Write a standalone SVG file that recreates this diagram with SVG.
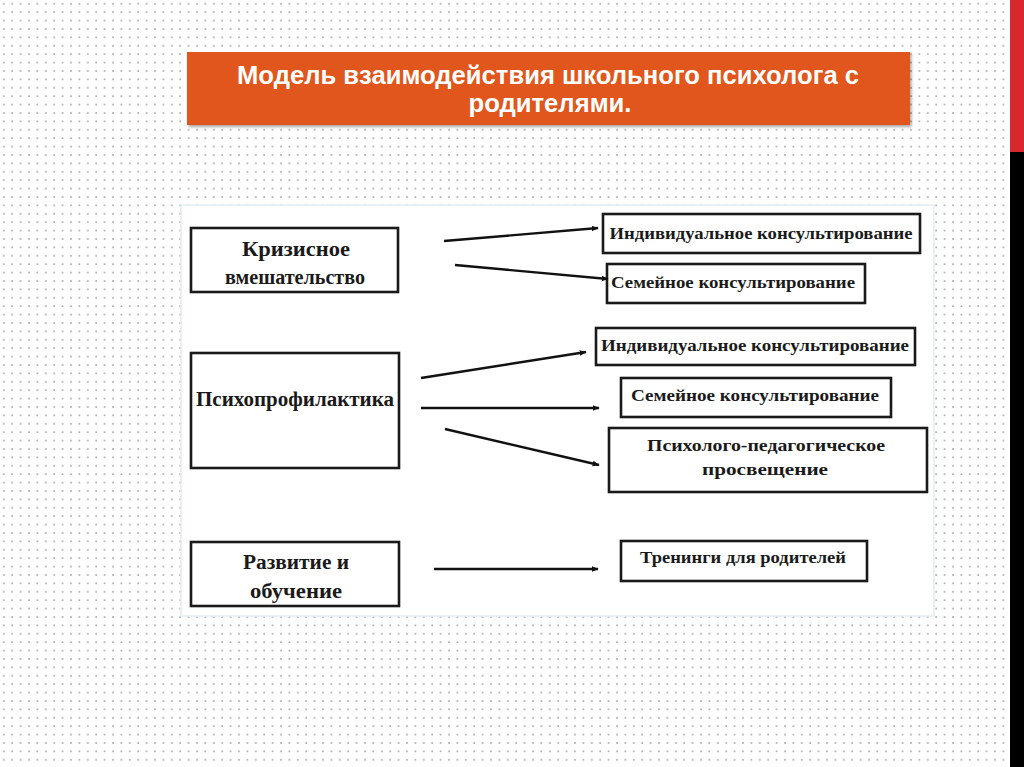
<svg xmlns="http://www.w3.org/2000/svg" width="1024" height="767" viewBox="0 0 1024 767">
<defs>
<pattern id="dots" x="0" y="0" width="8.4" height="8.4" patternUnits="userSpaceOnUse">
<rect x="3" y="3" width="1.6" height="1.6" fill="#a3a3a3"/>
</pattern>
<filter id="sh" x="-5%" y="-20%" width="110%" height="150%">
<feDropShadow dx="1.5" dy="2" stdDeviation="1.5" flood-color="#000" flood-opacity="0.35"/>
</filter>
<marker id="ah" viewBox="0 0 10 10" refX="9" refY="5" markerWidth="7" markerHeight="7" orient="auto" markerUnits="userSpaceOnUse">
<path d="M0,1 L10,5 L0,9 Z" fill="#111"/>
</marker>
</defs>
<style>
.box{fill:#fff;stroke:#1a1a1a;stroke-width:2.6}
.lt{font-family:"Liberation Serif","Times New Roman",serif;font-weight:bold;font-size:20px;fill:#1a1a1a;text-anchor:middle}
.rt{font-family:"Liberation Serif","Times New Roman",serif;font-weight:bold;font-size:16px;fill:#1a1a1a;text-anchor:middle}
.conn{stroke:#111;stroke-width:2.4;fill:none;marker-end:url(#ah)}
.title{font-family:"Liberation Sans",Arial,sans-serif;font-weight:bold;font-size:25px;fill:#fff;text-anchor:middle}
</style>
<rect width="1024" height="767" fill="#fff"/>
<rect width="1024" height="767" fill="url(#dots)"/>
<rect x="1010" y="0" width="14" height="152" fill="#d9272e"/>
<rect x="1010" y="152" width="14" height="615" fill="#000"/>

<g id="title">
<rect x="187" y="52" width="723" height="73" fill="#e0561d" filter="url(#sh)"/>
<text class="title" x="548" y="84" textLength="622" lengthAdjust="spacingAndGlyphs">Модель взаимодействия школьного психолога с</text>
<text class="title" x="550" y="112" textLength="163" lengthAdjust="spacingAndGlyphs">родителями.</text>
</g>

<rect x="181" y="205" width="753" height="411" fill="#fff" stroke="#e3edf2" stroke-width="1.5"/>

<g id="n-krizis">
<rect class="box" x="191" y="228" width="207" height="64"/>
<text class="lt" x="296" y="256" textLength="108" lengthAdjust="spacingAndGlyphs">Кризисное</text>
<text class="lt" x="295" y="284" textLength="140" lengthAdjust="spacingAndGlyphs">вмешательство</text>
</g>
<g id="n-psihoprof">
<rect class="box" x="191" y="353" width="208" height="115"/>
<text class="lt" x="295" y="406" textLength="198" lengthAdjust="spacingAndGlyphs">Психопрофилактика</text>
</g>
<g id="n-razvitie">
<rect class="box" x="191" y="542" width="208" height="64"/>
<text class="lt" x="296" y="569" textLength="106" lengthAdjust="spacingAndGlyphs">Развитие и</text>
<text class="lt" x="296" y="598" textLength="92" lengthAdjust="spacingAndGlyphs">обучение</text>
</g>

<g id="n-ind1">
<rect class="box" x="603" y="214" width="317" height="39"/>
<text class="rt" x="761" y="239" textLength="303" lengthAdjust="spacingAndGlyphs">Индивидуальное консультирование</text>
</g>
<g id="n-sem1">
<rect class="box" x="607" y="264" width="258" height="39"/>
<text class="rt" x="733" y="288" textLength="244" lengthAdjust="spacingAndGlyphs">Семейное консультирование</text>
</g>
<g id="n-ind2">
<rect class="box" x="596" y="328" width="319" height="37"/>
<text class="rt" x="755" y="351" textLength="308" lengthAdjust="spacingAndGlyphs">Индивидуальное консультирование</text>
</g>
<g id="n-sem2">
<rect class="box" x="621" y="378" width="270" height="39"/>
<text class="rt" x="755" y="401" textLength="248" lengthAdjust="spacingAndGlyphs">Семейное консультирование</text>
</g>
<g id="n-prosv">
<rect class="box" x="609" y="428" width="318" height="64"/>
<text class="rt" x="766" y="451" textLength="238" lengthAdjust="spacingAndGlyphs">Психолого-педагогическое</text>
<text class="rt" x="765" y="475" textLength="126" lengthAdjust="spacingAndGlyphs">просвещение</text>
</g>
<g id="n-trening">
<rect class="box" x="621" y="541" width="246" height="40"/>
<text class="rt" x="743" y="563" textLength="206" lengthAdjust="spacingAndGlyphs">Тренинги для родителей</text>
</g>

<g id="connectors">
<line class="conn" x1="444" y1="241" x2="598" y2="228"/>
<line class="conn" x1="455" y1="265" x2="608" y2="279"/>
<line class="conn" x1="421" y1="378" x2="586" y2="352"/>
<line class="conn" x1="421" y1="408" x2="599" y2="408"/>
<line class="conn" x1="445" y1="429" x2="599" y2="465"/>
<line class="conn" x1="434" y1="569" x2="598" y2="569"/>
</g>
</svg>
